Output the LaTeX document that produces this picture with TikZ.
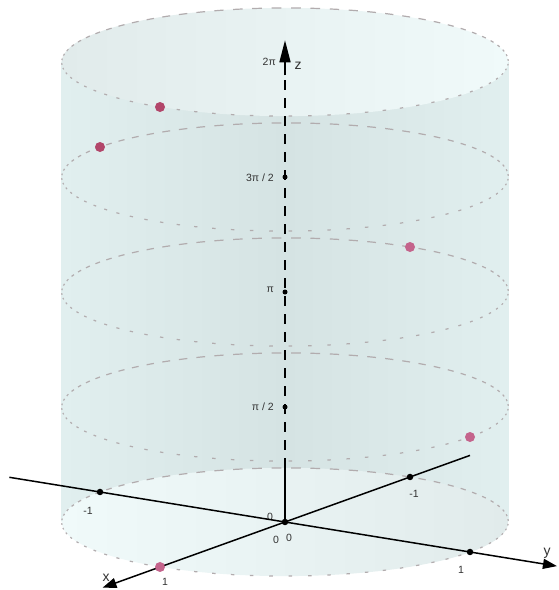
\documentclass[tikz,border=0pt]{standalone}
\usepackage{fontspec}
\setmainfont{Liberation Sans}
\usetikzlibrary{arrows.meta}
\definecolor{side}{RGB}{213,227,227}
\definecolor{sidelight}{RGB}{225,239,239}
\definecolor{disk}{RGB}{225,235,235}
\definecolor{disklight}{RGB}{240,250,250}
\definecolor{dashc}{RGB}{178,172,174}
\definecolor{dotA}{RGB}{178,70,106}
\definecolor{dotB}{RGB}{196,100,140}
\definecolor{lbl}{RGB}{50,50,50}
\tikzset{
  axisline/.style={line width=1.5pt, black},
  pdot/.style={circle, inner sep=0pt, minimum size=10pt, fill=#1},
  tdot/.style={circle, inner sep=0pt, minimum size=6.5pt, fill=black},
  zdot/.style={circle, inner sep=0pt, minimum size=5pt, fill=black},
  ticklbl/.style={font=\fontsize{10.5}{12}\selectfont, text=lbl, inner sep=0pt},
  axlbl/.style={font=\fontsize{14}{16}\selectfont, text=lbl, inner sep=0pt},
  ring/.style={dashc, line width=1.2pt}
}
\begin{document}
\begin{tikzpicture}[x=1pt,y=1pt]
\useasboundingbox (0,0) rectangle (559,590);
% cylinder fills
\shade[left color=sidelight, right color=sidelight, middle color=side] (61.7,68) rectangle (508.3,528);
\shade[left color=disklight, right color=disk] (285,68) ellipse [x radius=223.3, y radius=54.1];
\shade[left color=disk, right color=disklight] (285,528) ellipse [x radius=223.3, y radius=54.1];
% labels in canvas coordinates
\node[ticklbl, anchor=east] (l2pi) at (276,528) {2π};
\node[axlbl] (lz) at (298,524) {z};
\node[ticklbl, anchor=east] (l3pi) at (274,412) {3π / 2};
\node[ticklbl, anchor=east] (lpi) at (274,300) {π};
\node[ticklbl, anchor=east] (lpi2) at (274,183) {π / 2};
\node[axlbl] (lx) at (106,12) {x};
\node[axlbl] (ly) at (547,37) {y};
\node[ticklbl] (lym) at (88,79) {-1};
\node[ticklbl] (lxp) at (165,8) {1};
\node[ticklbl] (lo1) at (270,73) {0};
\node[ticklbl] (lo2) at (276,50) {0};
\node[ticklbl] (lo3) at (289,52) {0};
\node[ticklbl] (lxm) at (414,96) {-1};
\node[ticklbl] (lyp) at (461,20) {1};
\begin{scope}[shift={(285,68)}, x={(-125pt,-45pt)}, y={(185pt,-30pt)}, z={(0pt,73.21pt)}]
  % dashed rings (dash length varies with depth)
  \foreach \h in {0,1,2,3,4} {
    \foreach \k in {0,...,71} {
      \pgfmathsetmacro{\st}{\k*5}
      \pgfmathsetmacro{\en}{\k*5+1.7-0.8*cos(\k*5-33.7)}
      \draw[ring, variable=\t, domain=\st:\en, samples=3]
        plot ({cos(\t)},{sin(\t)},{\h*pi/2});
    }
  }
  \coordinate (O) at (0,0,0);
  \coordinate (xneg) at (-1.48,0,0);
  \coordinate (xpos) at (1.46,0,0);
  \coordinate (yneg) at (0,-1.49,0);
  \coordinate (ypos) at (0,1.47,0);
  \coordinate (zb) at (0,0,0.74);
  \coordinate (zs) at (0,0,6.1);
  \coordinate (ztip) at (0,0,6.58);
  % axes
  \draw[axisline] (O) -- (zb);
  \draw[axisline, dash pattern=on 9.5pt off 8.5pt] (zb) -- (zs);
  \draw[axisline, -{Triangle[length=22pt,width=11pt]}] (zs) -- (ztip);
  \draw[axisline, -{Triangle[length=14pt,width=10pt]}] (xneg) -- (xpos);
  \draw[axisline, -{Triangle[length=14pt,width=10pt]}] (yneg) -- (ypos);
  % tick dots
  \node[tdot] (o) at (0,0,0) {};
  \node[tdot] (txm) at (-1,0,0) {};
  \node[tdot] (typ) at (0,1,0) {};
  \node[tdot] (tym) at (0,-1,0) {};
  \node[zdot] (tz1) at (0,0,{pi/2}) {};
  \node[zdot] (tz2) at (0,0,{pi}) {};
  \node[zdot] (tz3) at (0,0,{3*pi/2}) {};
  % sample points
  \node[pdot=dotB] (p0) at (1,0,0) {};
  \node[pdot=dotB] (p1) at (0,1,{pi/2}) {};
  \node[pdot=dotB] (p2) at (-1,0,{pi}) {};
  \node[pdot=dotA] (p3) at (0,-1,{3*pi/2}) {};
  \node[pdot=dotA] (p4) at (1,0,{2*pi}) {};
\end{scope}
\end{tikzpicture}
\end{document}
